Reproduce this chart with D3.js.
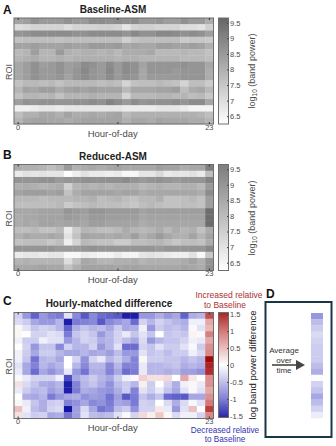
<!DOCTYPE html>
<html>
<head>
<meta charset="utf-8">
<script src="https://cdn.jsdelivr.net/npm/d3@7"></script>
<style>
  html, body { margin: 0; padding: 0; background: #fff; }
  svg { display: block; font-family: "Liberation Sans", Arial, sans-serif; }
</style>
</head>
<body>
<script>
// data: one row per ROI, one column per hour
const hours = d3.range(24);
const rois = d3.range(17);
const hourTicks = [0, 12, 23];
const powerTicks = [6.5, 7, 7.5, 8, 8.5, 9, 9.5];
const diffTicks = [-1.5, -1, -0.5, 0, 0.5, 1, 1.5];

const baselineAsm = [
  [8.3,8.4,8.7,8.5,8.5,8.5,8.7,8.5,8.5,8.8,8.8,8.7,8.8,8.7,8.8,8.5,8.5,8.6,8.4,8.4,8.7,8.5,8.5,8.1],
  [7.0,7.1,7.2,7.2,7.2,7.2,7.0,7.2,7.2,7.2,7.3,7.3,7.2,6.8,7.2,7.3,7.3,7.2,7.2,7.2,7.0,7.0,6.9,7.3],
  [8.6,8.7,8.8,8.8,8.8,8.8,8.8,8.7,8.7,8.8,8.8,8.8,8.8,8.6,8.9,8.7,8.7,8.9,8.9,8.8,8.7,8.8,8.7,8.4],
  [7.6,7.7,7.7,7.7,7.7,7.6,7.7,7.7,7.7,7.7,7.7,7.7,7.7,7.3,7.6,7.7,7.7,7.7,7.7,7.7,7.4,7.5,7.5,7.4],
  [8.3,8.3,8.4,8.3,8.3,8.3,8.4,8.3,8.3,8.5,8.5,8.4,8.5,8.2,8.3,8.2,8.2,8.4,8.4,8.3,8.3,8.4,8.3,8.0],
  [7.8,7.9,8.4,7.9,7.9,8.5,8.0,7.9,8.0,8.0,7.9,8.0,7.8,8.1,8.1,8.1,8.2,7.8,7.8,7.8,7.9,7.8,7.8,7.6],
  [7.9,8.0,8.1,7.9,7.9,8.0,7.9,8.0,8.0,8.0,8.0,8.0,7.9,8.0,8.0,7.9,7.9,7.9,7.9,7.9,7.8,7.8,7.8,7.7],
  [8.2,8.4,8.7,8.4,8.5,8.7,8.4,8.5,8.8,8.7,8.5,8.8,8.5,8.8,8.7,8.3,8.6,8.6,8.6,8.6,8.7,8.6,8.6,8.2],
  [8.2,8.4,8.7,8.5,8.5,8.7,8.4,8.6,8.9,8.6,8.5,8.9,8.5,8.8,8.7,8.2,8.6,8.6,8.6,8.5,8.6,8.6,8.6,8.1],
  [8.2,8.4,8.7,8.5,8.5,8.6,8.3,8.6,8.8,8.6,8.5,8.8,8.5,8.7,8.6,8.2,8.5,8.5,8.5,8.5,8.6,8.6,8.6,8.1],
  [7.6,7.8,7.8,7.7,7.8,7.6,7.8,7.8,7.8,7.8,7.7,7.8,7.7,7.2,7.6,7.7,7.7,7.8,7.7,7.6,7.2,7.7,7.7,7.4],
  [7.9,8.3,8.2,8.4,8.4,8.1,8.3,8.4,8.3,8.4,8.3,8.3,8.3,7.8,8.2,8.2,8.2,8.3,8.3,8.4,7.7,8.1,8.2,7.8],
  [7.6,7.9,7.9,7.8,7.9,7.6,7.9,7.9,7.9,8.0,7.9,7.9,7.9,7.2,7.8,7.8,7.8,7.9,7.9,7.8,7.9,7.7,7.8,7.5],
  [8.4,8.7,8.6,8.7,8.7,8.6,8.6,8.7,8.7,8.8,8.7,9.0,8.8,8.5,8.8,8.6,8.7,8.7,8.7,8.8,8.6,8.8,8.8,8.2],
  [6.6,6.6,6.7,6.8,6.8,6.7,6.8,6.8,6.8,6.8,6.8,6.8,6.8,6.7,6.7,6.7,6.7,6.8,6.8,6.8,6.7,6.5,6.5,6.5],
  [7.7,8.0,8.0,8.2,8.2,8.0,8.3,8.1,8.1,8.2,8.1,8.2,8.3,7.8,8.0,8.0,8.0,8.0,8.0,8.0,8.0,8.0,7.9,7.7],
  [7.9,8.2,8.3,8.3,8.2,8.2,8.1,8.2,8.3,8.3,8.3,8.3,8.3,8.0,8.2,8.2,8.1,8.3,8.2,8.2,8.2,8.1,8.1,7.9]
];

const reducedAsm = [
  [8.1,8.0,8.0,7.9,7.7,7.9,8.5,8.0,8.1,8.2,8.1,8.2,8.3,8.2,8.2,8.2,8.2,8.4,8.3,8.3,8.1,8.2,8.2,9.1],
  [6.7,6.9,6.8,6.9,6.8,6.8,6.3,6.6,6.9,6.7,6.7,6.6,6.7,6.4,6.4,6.8,6.8,7.1,6.7,6.8,6.8,6.9,6.7,7.7],
  [8.6,8.6,8.6,8.7,8.7,8.5,8.6,8.6,8.7,8.7,8.7,8.7,8.7,8.8,8.6,8.5,8.6,8.7,8.6,8.5,8.6,8.6,8.6,9.0],
  [8.0,8.1,8.0,7.9,8.0,8.1,7.3,7.9,8.0,7.9,8.0,7.9,8.0,8.0,8.0,7.8,7.9,8.0,7.9,7.9,8.0,8.0,7.8,8.5],
  [8.3,8.4,8.4,8.4,8.3,8.4,7.6,8.1,8.3,8.3,8.3,8.3,8.2,8.3,8.3,8.1,8.2,8.2,8.2,8.2,8.2,8.2,8.1,8.8],
  [7.8,7.8,7.8,7.7,7.8,7.8,7.8,7.9,7.9,8.0,7.7,7.8,7.9,7.7,7.6,7.8,7.8,8.0,7.6,7.6,7.7,7.8,7.6,8.4],
  [7.7,7.7,7.7,7.7,7.7,7.8,7.4,7.6,7.7,7.8,7.7,7.7,7.7,7.6,7.5,7.7,7.8,7.7,7.6,7.6,7.7,7.7,7.6,8.4],
  [8.2,8.2,8.2,8.3,8.3,8.3,8.6,8.5,8.4,8.6,8.6,8.5,8.5,8.5,8.5,8.3,8.4,8.4,8.4,8.4,8.4,8.4,8.4,9.5],
  [8.1,8.2,8.2,8.3,8.3,8.3,8.5,8.4,8.3,8.5,8.5,8.4,8.4,8.4,8.4,8.2,8.3,8.3,8.3,8.3,8.3,8.3,8.3,9.5],
  [8.1,8.2,8.1,8.3,8.3,8.2,8.3,8.3,8.2,8.4,8.4,8.3,8.3,8.3,8.3,8.1,8.2,8.2,8.2,8.2,8.2,8.2,8.2,9.5],
  [7.7,7.7,7.8,7.6,7.6,7.8,6.7,7.4,7.9,7.8,7.7,7.7,7.8,8.1,7.9,7.8,7.9,8.1,7.8,8.1,7.9,8.0,7.6,8.1],
  [8.0,8.2,8.1,8.1,8.2,8.1,6.9,7.6,8.3,8.2,8.2,8.1,8.2,8.1,8.4,8.0,8.2,8.5,8.2,8.0,8.0,8.3,7.9,8.3],
  [7.6,7.7,7.7,7.7,7.5,7.7,6.6,7.2,7.8,7.7,7.6,7.6,7.4,7.4,7.7,7.7,7.8,7.9,7.7,7.5,7.7,7.7,7.6,8.1],
  [8.6,8.6,8.6,8.6,8.6,8.5,8.5,8.5,8.6,8.7,8.6,8.6,8.6,8.6,8.6,8.6,8.6,8.5,8.6,8.6,8.6,8.6,8.6,8.9],
  [6.7,6.8,6.8,6.7,6.8,6.8,6.4,6.4,6.7,6.6,6.5,6.5,6.7,6.5,6.5,6.8,6.9,6.8,6.7,6.6,6.6,6.9,6.4,7.5],
  [7.9,8.0,7.9,7.9,7.9,7.9,7.0,7.6,8.2,8.1,7.9,7.9,8.0,8.0,8.1,7.9,8.0,8.0,8.0,8.0,8.1,8.3,8.0,8.6],
  [8.2,8.2,8.2,8.3,8.2,8.2,7.6,8.0,8.3,8.3,8.3,8.3,8.2,8.3,8.3,8.2,8.2,8.2,8.2,8.2,8.3,8.2,8.1,8.7]
];

const differenceAsm = [
  [-.3,-.7,-1.05,-.7,-.85,-.9,-.2,-.8,-1.1,-.8,-1,-1.05,-1.1,-1.4,-1.4,-.7,-.7,-.55,-.7,-.6,-1.05,-.55,-.5,1.1],
  [-.25,-.35,-.6,-.7,-.7,-.5,-1.4,-.9,-.85,-.8,-1.1,-.8,-.7,-.6,-1,-.3,-.5,-.3,-.4,-.5,-.55,-.1,-.1,.55],
  [.05,-.2,-.4,-.3,-.35,-.5,-1.05,-.55,-.4,-.5,-.45,-.6,-.35,-.6,-.55,-.1,-.7,-.35,-.45,-.4,-.5,-.05,-.2,.45],
  [.05,0,-.3,-.3,-.2,-.25,-.9,-.4,-.3,-.4,-.7,-.5,-.3,-.15,-.4,-.2,-.4,0,-.4,-.35,-.4,.08,-.05,.8],
  [-.1,-.35,-.35,-.1,-.2,-.2,-.7,-.5,-.3,-.35,-.55,-.5,-.3,-.45,-.6,-.25,-.7,-.5,-.4,-.4,-.3,-.1,-.15,.55],
  [0,-.3,-.7,-.4,-.4,-.8,-.3,-.5,-.5,-.3,-.7,-.5,-.2,-1,-1,-.3,-.4,-.2,-.35,-.35,-.2,-.05,-.35,.7],
  [-.1,-.35,-.6,-.35,-.35,-.5,-.6,-.6,-.5,-.6,-.55,-.65,-.45,-.7,-.7,-.2,-.4,-.35,-.45,-.35,-.35,-.1,-.25,.75],
  [-.1,-.4,-.95,-.5,-.45,-.6,0,-.3,-.75,-.3,-.15,-.5,-.35,-.55,-.85,.05,-.35,-.35,-.4,-.4,-.5,-.4,-.5,1.5],
  [-.2,-.6,-.85,-.5,-.6,-.5,0,-.5,-.8,-.5,-.5,-.8,-.5,-.85,-.85,-.15,-.5,-.5,-.45,-.4,-.55,-.5,-.55,1.35],
  [-.15,-.6,-1,-.6,-.75,-.6,-.15,-.7,-.95,-.55,-.55,-.85,-.6,-1,-.9,-.15,-.5,-.5,-.55,-.5,-.65,-.65,-.75,1.3],
  [-.05,-.15,-.3,-.3,-.3,-.1,-1.15,-.6,-.45,-.35,-.5,-.6,-.35,-.1,-.05,.3,.2,.2,.25,0,.55,.15,0,.7],
  [.2,-.25,-.4,-.55,-.6,-.5,-1.4,-.85,-.5,-.4,-.55,-.75,-.45,-.35,-.5,.1,-.35,0,-.3,-.55,-.1,.05,-.15,.7],
  [-.15,-.35,-.5,-.45,-.65,-.55,-1.4,-.9,-.55,-.6,-.7,-.75,-.55,-.35,-.85,-.2,-.35,-.15,-.4,-.6,-.2,.05,-.2,.55],
  [0,-.55,-.6,-.5,-.9,-.7,-.6,-.55,-.75,-.65,-.7,-.95,-.65,-1.1,-.9,-.4,-.55,-.4,-1,-1.05,-1.1,-.6,-.6,.7],
  [.05,-.15,-.4,-.55,-.35,-.3,-.85,-.75,-.6,-.8,-.75,-.9,-.6,-.65,-.9,-.3,-.35,0,-.25,-.55,-.25,-.05,-.2,.85],
  [.4,-.1,-.45,-.55,-.3,-.25,-1.45,-.65,-.25,-.6,-.95,-.85,-.45,-.35,-.75,-.3,-.3,.15,-.15,-.7,-.2,.4,0,1.2],
  [.2,-.2,-.35,-.3,-.6,-.55,-.95,-.65,-.2,-.45,-.5,-.45,-.2,-.05,-.3,.25,.1,.35,.05,-.25,-.1,-.1,-.3,.75]
];

// panel D, each ROI averaged over time
const averageOverTime = [-.7,-.45,-.35,-.25,-.3,-.35,-.35,-.35,-.45,-.55,-.02,-.3,-.4,-.6,-.45,-.3,-.12];

const axisGrey = "#6e6e6e",
    textGrey = "#4a4a4a";

const svg = d3.select("body").append("svg")
    .attr("width", 336)
    .attr("height", 446);

// colour scales
const powerColor = d3.scaleLinear()
    .domain([6.25, 9.65])
    .range(["#ffffff", "#666666"])
    .clamp(true);

const diffColor = d3.scaleLinear()
    .domain([-1.55, -1, 0, 1, 1.55])
    .range(["#00009a", "#6c6cd0", "#ffffff", "#cc6262", "#9a0000"])
    .clamp(true);

function heatmap(top, matrix, color) {
    const left = 14, w = 199.5, h = 106;

    const x = d3.scaleBand().domain(hours).range([0, w]);
    const y = d3.scaleBand().domain(rois).range([0, h]);

    const g = svg.append("g")
        .attr("transform", "translate(" + left + "," + top + ")");

    g.selectAll(".row")
        .data(matrix)
        .enter().append("g")
        .attr("class", "row")
        .selectAll("rect")
        .data(function (d, i) {
            return d.map(function (v, j) {
                return {roi: i, hour: j, v: v};
            });
        })
        .enter().append("rect")
        .attr("x", d => x(d.hour))
        .attr("y", d => y(d.roi))
        .attr("width", x.bandwidth() + 0.3)
        .attr("height", y.bandwidth() + 0.3)
        .attr("fill", d => color(d.v));

    g.append("rect")
        .attr("width", w)
        .attr("height", h)
        .attr("fill", "none")
        .attr("stroke", axisGrey)
        .attr("stroke-width", 1);

    // bottom axis, the middle tick has no label
    const axis = g.append("g")
        .attr("transform", "translate(0," + h + ")")
        .call(d3.axisBottom(x)
            .tickValues(hourTicks)
            .tickSize(-2)
            .tickPadding(0.5)
            .tickFormat(d => d === 12 ? "" : d));
    axis.select(".domain").remove();
    axis.selectAll("line").attr("stroke", "#333");
    axis.selectAll("text").attr("font-size", 7.5).attr("fill", textGrey).attr("font-family", null);

    // same ticks along the top
    const topAxis = g.append("g")
        .call(d3.axisTop(x).tickValues(hourTicks).tickSize(-2).tickFormat(""));
    topAxis.select(".domain").remove();
    topAxis.selectAll("line").attr("stroke", "#333");

    g.append("text")
        .attr("x", w / 2 - 1)
        .attr("y", h + 12.5)
        .attr("text-anchor", "middle")
        .attr("font-size", 9.5)
        .attr("fill", textGrey)
        .text("Hour-of-day");

    g.append("text")
        .attr("transform", "translate(-2," + (h / 2 + 1) + ") rotate(-90)")
        .attr("text-anchor", "middle")
        .attr("font-size", 9)
        .attr("fill", textGrey)
        .text("ROI");
}

function colorbar(left, top, h, color, ticks) {
    const w = 10;
    const domain = color.domain();
    const y = d3.scaleLinear()
        .domain([domain[0], domain[domain.length - 1]])
        .range([h, 0]);

    const g = svg.append("g")
        .attr("transform", "translate(" + left + "," + top + ")");

    g.selectAll("rect")
        .data(d3.range(0, h))
        .enter().append("rect")
        .attr("y", d => d)
        .attr("width", w)
        .attr("height", 1.2)
        .attr("fill", d => color(y.invert(d + 0.5)));

    g.append("rect")
        .attr("width", w)
        .attr("height", h)
        .attr("fill", "none")
        .attr("stroke", axisGrey);

    const axis = g.append("g")
        .attr("transform", "translate(" + w + ",0)")
        .call(d3.axisRight(y)
            .tickValues(ticks)
            .tickSize(-1.5)
            .tickPadding(1.5)
            .tickFormat(d => d));
    axis.select(".domain").remove();
    axis.selectAll("line").attr("stroke", "#444");
    axis.selectAll("text").attr("font-size", 7.5).attr("fill", textGrey).attr("font-family", null);
}

function centred(x, y, str, size, fill, weight) {
    return svg.append("text")
        .attr("x", x)
        .attr("y", y)
        .attr("text-anchor", "middle")
        .attr("font-size", size)
        .attr("fill", fill)
        .attr("font-weight", weight || null)
        .text(str);
}

function powerLabel(cy) {
    const t = svg.append("text")
        .attr("transform", "translate(255," + cy + ") rotate(-90)")
        .attr("text-anchor", "middle")
        .attr("font-size", 9)
        .attr("fill", textGrey);
    t.append("tspan").text("log");
    t.append("tspan").attr("font-size", 6.5).attr("dy", 2).text("10");
    t.append("tspan").attr("dy", -2).text(" (band power)");
}

// panel letters
[["A", 3, 14], ["B", 3, 159], ["C", 3, 304.5], ["D", 266, 298]].forEach(function (d) {
    svg.append("text")
        .attr("x", d[1])
        .attr("y", d[2])
        .attr("font-size", 12)
        .attr("font-weight", "bold")
        .attr("fill", "#111")
        .text(d[0]);
});

// A
centred(113, 13, "Baseline-ASM", 10, "#222", "bold");
heatmap(18, baselineAsm, powerColor);
colorbar(218.5, 18, 106, powerColor, powerTicks);
powerLabel(71);

// B
centred(113, 160, "Reduced-ASM", 10, "#222", "bold");
heatmap(164.5, reducedAsm, powerColor);
colorbar(218.5, 164.5, 106, powerColor, powerTicks);
powerLabel(218);

// C
centred(109, 307, "Hourly-matched difference", 10, "#222", "bold");
heatmap(312.5, differenceAsm, diffColor);
colorbar(218.5, 312.5, 105, diffColor, diffTicks);

svg.append("text")
    .attr("transform", "translate(256,365) rotate(-90)")
    .attr("text-anchor", "middle")
    .attr("font-size", 9.5)
    .attr("fill", "#222")
    .text("log band power difference");

centred(229, 297.5, "Increased relative", 8.5, "#a83232");
centred(225, 308, "to Baseline", 8.5, "#a83232");
centred(225, 433, "Decreased relative", 8.2, "#3434b0");
centred(225, 441.5, "to Baseline", 8.2, "#3434b0");

// D
svg.append("rect")
    .attr("x", 265.5)
    .attr("y", 302)
    .attr("width", 66)
    .attr("height", 135)
    .attr("fill", "none")
    .attr("stroke", "#17364a")
    .attr("stroke-width", 2);

const stripY = d3.scaleBand().domain(rois).range([313, 418]);

svg.append("g").selectAll("rect")
    .data(averageOverTime)
    .enter().append("rect")
    .attr("x", 311)
    .attr("y", (d, i) => stripY(i))
    .attr("width", 12)
    .attr("height", stripY.bandwidth() + 0.3)
    .attr("fill", d => diffColor(d));

svg.append("line")
    .attr("x1", 272)
    .attr("x2", 297)
    .attr("y1", 365)
    .attr("y2", 365)
    .attr("stroke", "#444")
    .attr("stroke-width", 1.6);

svg.append("path")
    .attr("d", d3.line()([[296, 360], [305, 365], [296, 370]]) + "Z")
    .attr("fill", "#444");

centred(284, 353, "Average", 8, "#333");
centred(284, 363, "over", 8, "#333");
centred(284, 373, "time", 8, "#333");
</script>
</body>
</html>
